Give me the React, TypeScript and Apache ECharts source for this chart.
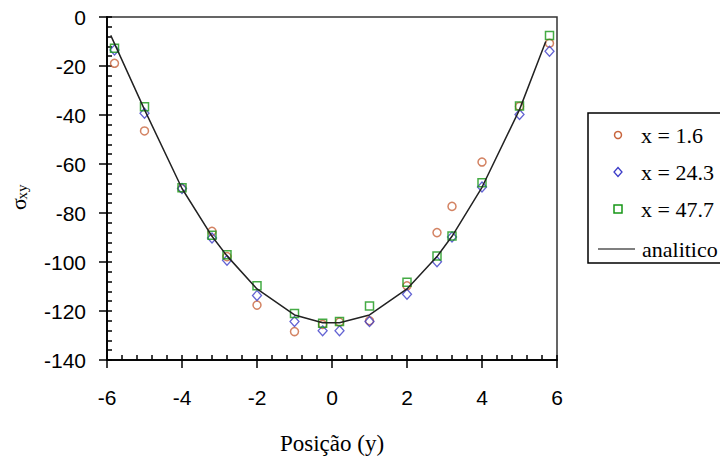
import React, { useEffect, useRef } from "react";
import * as echarts from "echarts";

// Positions along y (horizontal axis)
const positions = [-5.8, -5, -4, -3.2, -2.8, -2, -1, -0.25, 0.2, 1, 2, 2.8, 3.2, 4, 5, 5.8];

// sigma_xy values for each section
const seriesX1_6 = [-18.9, -46.5, -70, -87.5, -97.8, -117.6, -128.4, -125.5, -124.5, -124, -109.7, -88, -77.3, -59.2, -36.5, -10.7];
const seriesX24_3 = [-13.5, -39.3, -70, -90.2, -99.3, -113.7, -124.3, -128.1, -128.1, -124.3, -113.2, -99.9, -89.8, -69.4, -39.8, -14];
const seriesX47_7 = [-12.8, -36.6, -69.7, -89.1, -97, -109.7, -121, -125, -124.3, -118, -108.3, -97.6, -89.4, -67.7, -36.3, -7.5];

// analytic curve
const analyticX = [-5.9, -5, -4, -3.2, -2.8, -2, -1, -0.25, 0.2, 1, 2, 2.8, 3.2, 4, 5, 5.7];
const analyticY = [-7.5, -37.8, -70, -89.5, -97.5, -111, -121.6, -124.8, -124.8, -121.6, -111, -97.8, -89.5, -69.5, -37.8, -10];

const legendLabels = ["x = 1.6", "x = 24.3", "x = 47.7", "analitico"];
const xTitle = "Posição (y)";

const ORANGE = "#c8643c";
const BLUE = "#3c3cc8";
const GREEN = "#169616";

const zip = (xs: number[], ys: number[]) => xs.map((x, i) => [x, ys[i]]);

export default function App() {
  const ref = useRef<HTMLDivElement>(null);
  useEffect(() => {
    const chart = echarts.init(ref.current!, null, { renderer: "svg" });
    const tickLine = { color: "#000", width: 1.5 };
    const axisLineStyle = { color: "#000", width: 1.5 };
    const labelFont = { fontFamily: "Liberation Sans", fontSize: 21, color: "#000" };
    const serif = "Liberation Serif";

    const legendX = 588;
    const legendTop = 113;
    const rowY = [135, 172, 209, 249];
    const textX = 641;

    chart.setOption({
      animation: false,
      backgroundColor: "#fff",
      grid: {
        left: 107,
        right: 163,
        top: 17,
        bottom: 101,
        show: true,
        borderColor: "#333",
        borderWidth: 1.5,
      },
      xAxis: [
        {
          type: "value",
          min: -6,
          max: 6,
          interval: 2,
          position: "bottom",
          axisLine: { show: true, onZero: false, lineStyle: axisLineStyle },
          axisTick: { show: true, inside: true, length: 5, lineStyle: tickLine },
          minorTick: { show: true, splitNumber: 5, length: 5, lineStyle: tickLine },
          axisLabel: { ...labelFont, margin: 27 },
          splitLine: { show: false },
          name: xTitle,
          nameLocation: "middle",
          nameGap: 72,
          nameTextStyle: { fontFamily: serif, fontSize: 23, color: "#000" },
        },
        {
          type: "value",
          min: -6,
          max: 6,
          interval: 2,
          position: "bottom",
          axisLine: { show: true, onZero: false, lineStyle: axisLineStyle },
          axisTick: { show: true, inside: false, length: 8, lineStyle: tickLine },
          minorTick: { show: false },
          axisLabel: { show: false },
          splitLine: { show: false },
        },
      ],
      yAxis: [
        {
          type: "value",
          min: -140,
          max: 0,
          interval: 20,
          position: "left",
          axisLine: { show: true, onZero: false, lineStyle: axisLineStyle },
          axisTick: { show: true, inside: true, length: 5, lineStyle: tickLine },
          minorTick: { show: true, splitNumber: 5, length: 5, lineStyle: tickLine },
          axisLabel: { ...labelFont, margin: 21 },
          splitLine: { show: false },
        },
        {
          type: "value",
          min: -140,
          max: 0,
          interval: 20,
          position: "left",
          axisLine: { show: true, onZero: false, lineStyle: axisLineStyle },
          axisTick: { show: true, inside: false, length: 8, lineStyle: tickLine },
          minorTick: { show: false },
          axisLabel: { show: false },
          splitLine: { show: false },
        },
      ],
      series: [
        {
          name: legendLabels[0],
          type: "scatter",
          xAxisIndex: 0,
          yAxisIndex: 0,
          symbol: "circle",
          symbolSize: 8,
          itemStyle: { color: "transparent", borderColor: ORANGE, borderWidth: 1.5 },
          data: zip(positions, seriesX1_6),
        },
        {
          name: legendLabels[1],
          type: "scatter",
          xAxisIndex: 0,
          yAxisIndex: 0,
          symbol: "diamond",
          symbolSize: [9, 10],
          itemStyle: { color: "transparent", borderColor: BLUE, borderWidth: 1.3 },
          data: zip(positions, seriesX24_3),
        },
        {
          name: legendLabels[2],
          type: "scatter",
          xAxisIndex: 0,
          yAxisIndex: 0,
          symbol: "rect",
          symbolSize: 8,
          itemStyle: { color: "transparent", borderColor: GREEN, borderWidth: 1.5 },
          data: zip(positions, seriesX47_7),
        },
        {
          name: legendLabels[3],
          type: "line",
          xAxisIndex: 0,
          yAxisIndex: 0,
          showSymbol: false,
          symbol: "none",
          lineStyle: { color: "#222", width: 1.5 },
          data: zip(analyticX, analyticY),
        },
        {
          name: "_ticks",
          type: "scatter",
          xAxisIndex: 1,
          yAxisIndex: 1,
          silent: true,
          symbolSize: 0,
          data: [[0, -70]],
        },
      ],
      graphic: [
        {
          type: "group",
          x: 18,
          y: 198,
          rotation: Math.PI / 2,
          children: [
            {
              type: "text",
              x: -6,
              y: 0,
              style: {
                text: "σ",
                font: `22px "${serif}"`,
                fill: "#000",
                align: "center",
                verticalAlign: "middle",
              },
            },
            {
              type: "text",
              x: 6,
              y: 4,
              style: {
                text: "xy",
                font: `15px "${serif}"`,
                fill: "#000",
                align: "center",
                verticalAlign: "middle",
              },
            },
          ],
        },
        {
          type: "rect",
          shape: { x: legendX, y: legendTop, width: 200, height: 150 },
          style: { fill: "#fff", stroke: "#000", lineWidth: 1.5 },
          z: 10,
        },
        {
          type: "circle",
          shape: { cx: 618, cy: rowY[0], r: 3.5 },
          style: { fill: "transparent", stroke: ORANGE, lineWidth: 1.5 },
          z: 11,
        },
        {
          type: "polygon",
          shape: {
            points: [
              [618, rowY[1] - 4.5],
              [622, rowY[1]],
              [618, rowY[1] + 4.5],
              [614, rowY[1]],
            ],
          },
          style: { fill: "transparent", stroke: BLUE, lineWidth: 1.3 },
          z: 11,
        },
        {
          type: "rect",
          shape: { x: 614, y: rowY[2] - 4, width: 8, height: 8 },
          style: { fill: "transparent", stroke: GREEN, lineWidth: 1.5 },
          z: 11,
        },
        {
          type: "line",
          shape: { x1: 598, y1: rowY[3], x2: 635, y2: rowY[3] },
          style: { stroke: "#000", lineWidth: 1.2 },
          z: 11,
        },
        ...legendLabels.map((t, i) => ({
          type: "text",
          x: i === 3 ? 642 : textX,
          y: rowY[i],
          z: 11,
          style: {
            text: t,
            font: `22px "${serif}"`,
            fill: "#000",
            align: "left",
            verticalAlign: "middle",
          },
        })),
      ],
    });
    return () => chart.dispose();
  }, []);
  return (
    <div
      ref={ref}
      style={{ position: "fixed", left: 0, top: 0, width: 720, height: 461 }}
    />
  );
}
